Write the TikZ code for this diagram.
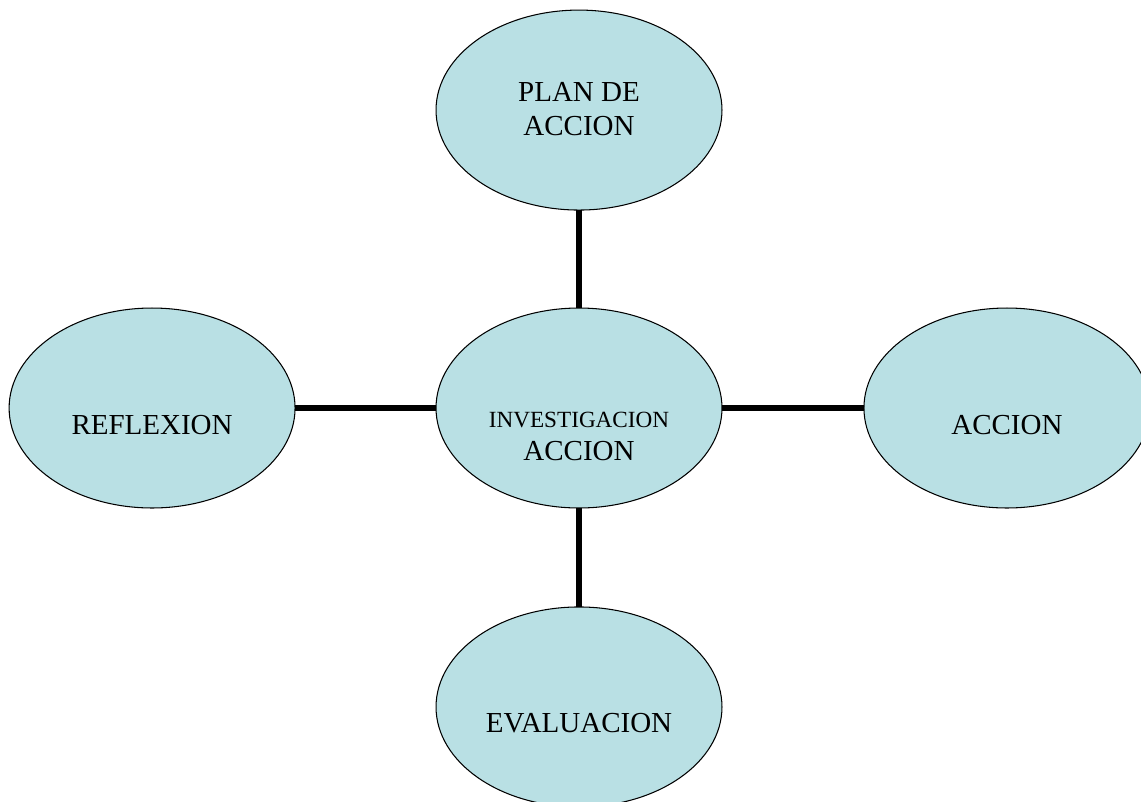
\documentclass[tikz,border=0pt]{standalone}
\usepackage{fontspec}
\setmainfont{Liberation Serif}
\usetikzlibrary{shapes,positioning}
\definecolor{bubblefill}{RGB}{185,224,228}
\tikzstyle{bubble} = [ellipse, draw, line width=0.6pt, fill=bubblefill, outer sep=0pt, minimum width=5.72cm, minimum height=4cm, align=center, font=\fontsize{16.5}{19}\selectfont]
\tikzstyle{low} = [text height=1.04cm, text depth=0pt]
\tikzstyle{line} = [draw, line width=3pt]

\begin{document}
\begin{tikzpicture}[x=0.02cm, y=-0.02cm]
	\useasboundingbox (0,0) rectangle (1141,801);

	\node[bubble, text height=2.12cm, text depth=0pt] (inv) at (579,408) {{\fontsize{13.2}{19}\selectfont INVESTIGACION}\\ACCION};

	\node[bubble, text height=1cm, text depth=0pt, above=1.96cm of inv] (plan) {PLAN DE\\ACCION};
	\node[bubble, low, left=2.82cm of inv] (reflexion) {REFLEXION};
	\node[bubble, low, right=2.84cm of inv] (accion) {ACCION};
	\node[bubble, low, below=1.98cm of inv] (evaluacion) {EVALUACION};

	\path [line] (plan) -- (inv);
	\path [line] (reflexion) -- (inv);
	\path [line] (inv) -- (accion);
	\path [line] (inv) -- (evaluacion);
\end{tikzpicture}
\end{document}
